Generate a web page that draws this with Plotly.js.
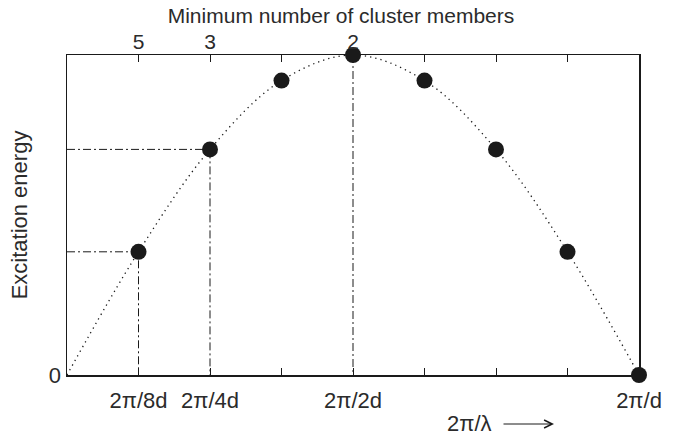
<!DOCTYPE html>
<html>
<head>
<meta charset="utf-8">
<script src="https://cdn.plot.ly/plotly-3.0.1.min.js"></script>
<style>html,body{margin:0;padding:0;background:#fff;}#chart{width:681px;height:437px;}</style>
</head>
<body>
<div id="chart"></div>
<script>
// Data
const kFrac = [0.125, 0.25, 0.375, 0.5, 0.625, 0.75, 0.875, 1.0];
const energy = [0.385, 0.705, 0.92, 1.0, 0.92, 0.705, 0.385, 0.0];
const curveX = [0].concat(kFrac);
const curveY = [0].concat(energy);
const bottomTickVals = [0.125, 0.25, 0.375, 0.5, 0.625, 0.75, 0.875, 1.0];
const bottomTickText = ['2π/8d', '2π/4d', '', '2π/2d', '', '', '', '2π/d'];
const topTickText = ['5', '3', '', '2', '', '', '', ''];
const yTickVals = [0];
const yTickText = ['0'];

const ink = '#1a1a1a';
const txt = '#2b2b2b';
const fnt = {family: 'Liberation Sans, Arial, sans-serif', size: 22, color: txt};
const fntTop = {family: 'Liberation Sans, Arial, sans-serif', size: 21, color: txt};
const dd = '8px,3px,2px,3px';

const traces = [];
// dotted curve
traces.push({x: curveX, y: curveY, mode: 'lines', line: {shape: 'spline', smoothing: 1.0, color: ink, width: 1.3, dash: '1.3px,4px'}, hoverinfo: 'skip', showlegend: false});
// guide lines (dash-dot) from points at 2π/8d and 2π/4d to both axes
[0, 1].forEach(i => {
  traces.push({x: [0, kFrac[i], kFrac[i]], y: [energy[i], energy[i], 0], mode: 'lines', line: {color: ink, width: 1, dash: dd}, hoverinfo: 'skip', showlegend: false});
});
// vertical guide at 2π/2d
traces.push({x: [kFrac[3], kFrac[3]], y: [energy[3], 0], mode: 'lines', line: {color: ink, width: 1, dash: dd}, hoverinfo: 'skip', showlegend: false});
// markers
traces.push({x: kFrac, y: energy, mode: 'markers', marker: {size: 16, color: ink}, cliponaxis: false, showlegend: false});
// invisible trace for the top axis
traces.push({x: kFrac, y: energy, xaxis: 'x2', mode: 'markers', marker: {opacity: 0}, hoverinfo: 'skip', showlegend: false});

const layout = {
  width: 681, height: 437,
  margin: {l: 67, r: 42, t: 55, b: 62},
  paper_bgcolor: '#fff', plot_bgcolor: '#fff',
  font: fnt,
  showlegend: false,
  title: {text: 'Minimum number of cluster members', font: fntTop, x: 341/681, xanchor: 'center', y: 1 - 16/437, yanchor: 'middle', yref: 'container'},
  xaxis: {
    range: [0, 1], showgrid: false, zeroline: false,
    showline: true, linecolor: ink, linewidth: 1.5, mirror: 'ticks',
    ticks: 'inside', ticklen: 7, tickwidth: 1, tickcolor: ink,
    tickvals: bottomTickVals, ticktext: bottomTickText, tickfont: fnt,
    ticklabelstandoff: 5
  },
  xaxis2: {
    range: [0, 1], overlaying: 'x', side: 'top', showgrid: false, zeroline: false,
    showline: false, ticks: '', tickvals: bottomTickVals, ticktext: topTickText, tickfont: fntTop,
    ticklabelstandoff: 1
  },
  yaxis: {
    range: [0, 1], showgrid: false, zeroline: false,
    showline: true, linecolor: ink, linewidth: 1.5, mirror: true,
    ticks: '', tickvals: yTickVals, ticktext: yTickText, tickfont: fnt,
    title: {text: 'Excitation energy', font: fnt, standoff: 15}
  },
  annotations: [{
    text: '2π/λ', xref: 'paper', yref: 'paper', x: (469 - 67) / 572, y: (375 - 423) / 320,
    xanchor: 'center', yanchor: 'middle', showarrow: false, font: fnt
  }, {
    text: '', xref: 'paper', yref: 'paper', x: (554 - 67) / 572, y: (375 - 424) / 320,
    showarrow: true, ax: -52, ay: 0, arrowhead: 5, arrowsize: 1.6, arrowwidth: 1, arrowcolor: ink, standoff: 0
  }]
};

Plotly.newPlot('chart', traces, layout, {displayModeBar: false, staticPlot: true});
</script>
</body>
</html>
